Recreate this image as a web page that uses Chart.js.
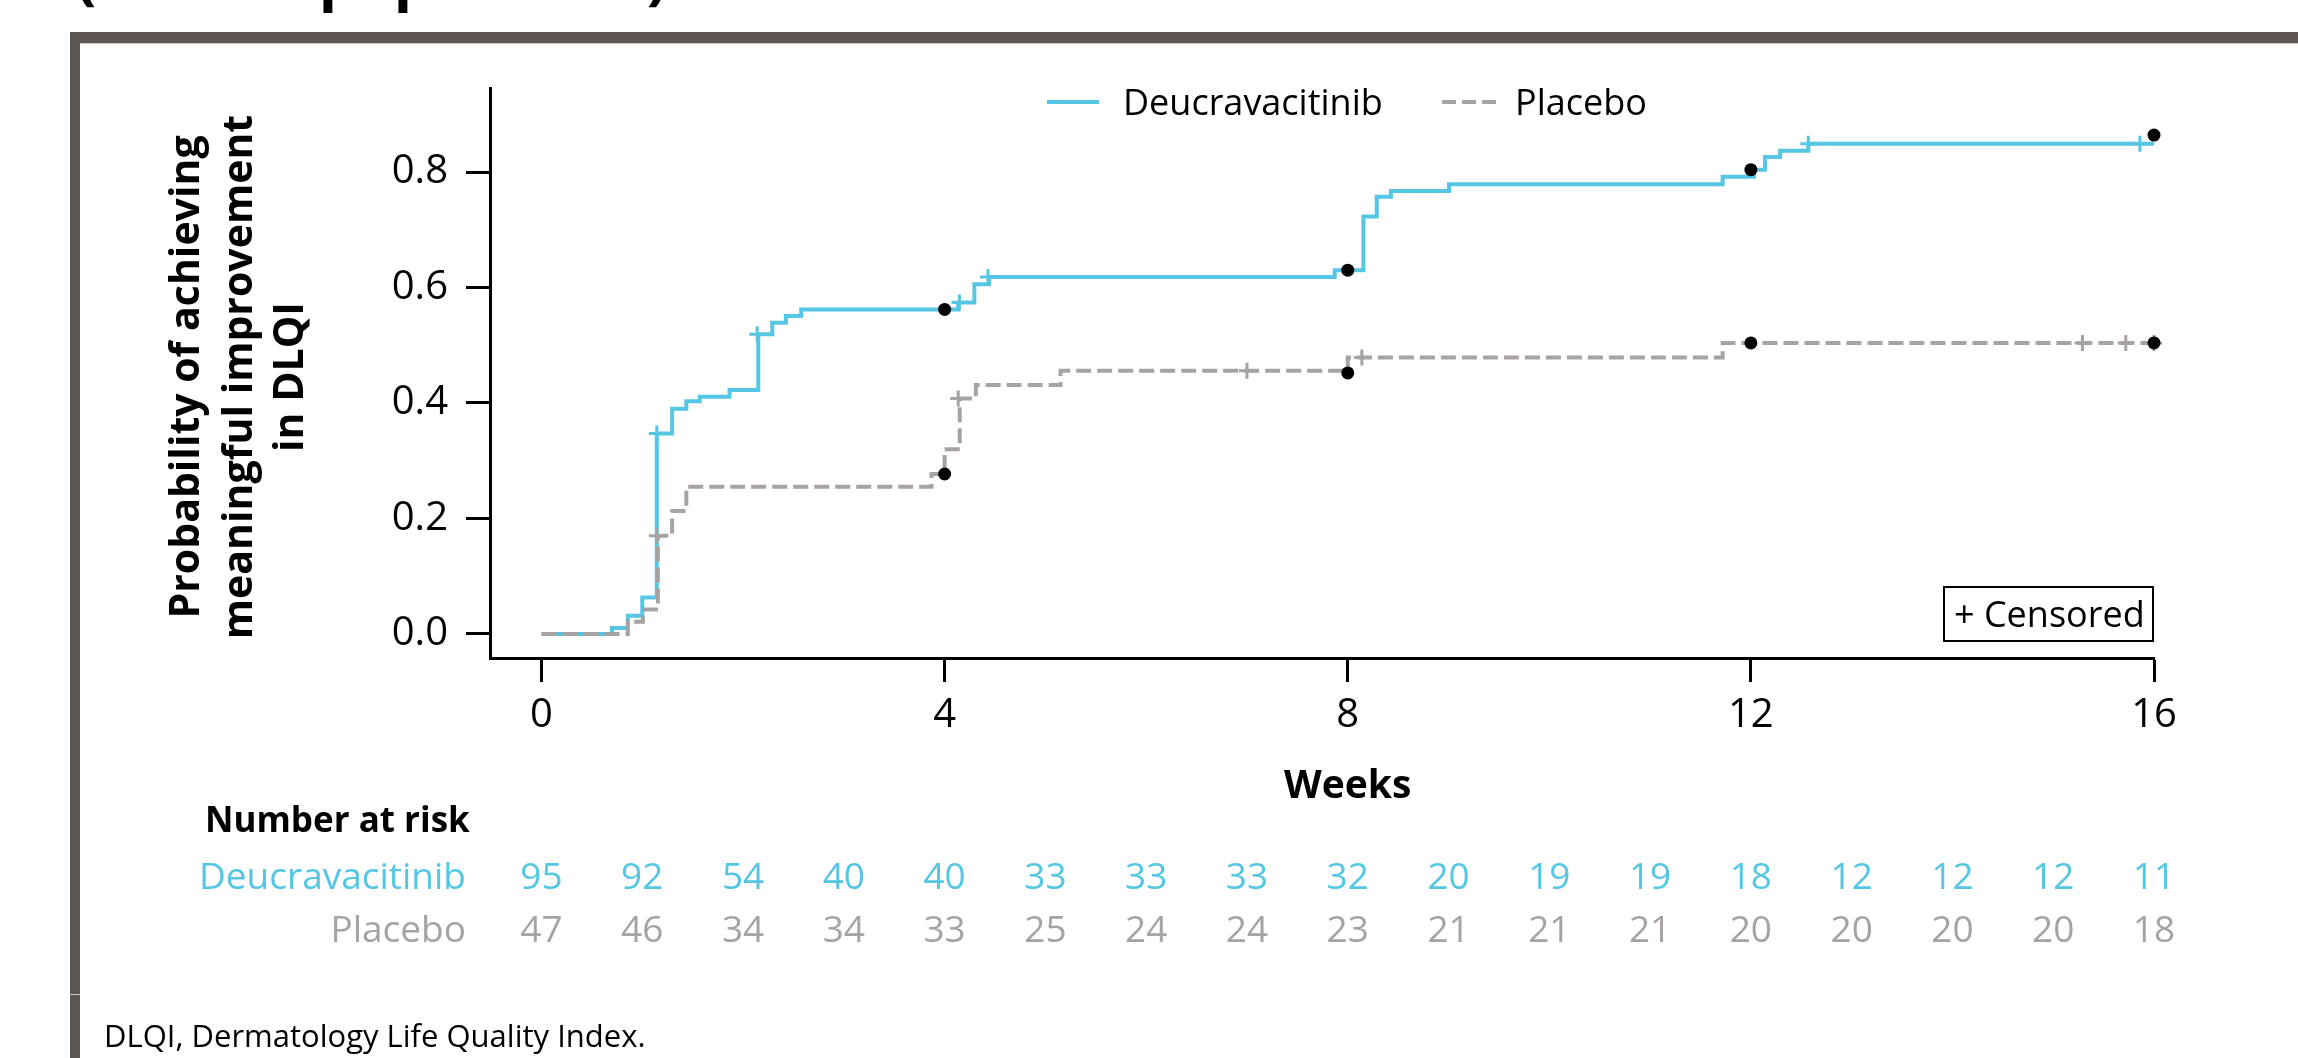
<!DOCTYPE html>
<html>
<head>
<meta charset="utf-8">
<script src="https://cdn.jsdelivr.net/npm/chart.js@4.4.1/dist/chart.umd.min.js"></script>
<style>
  html, body { margin: 0; padding: 0; background: #ffffff; overflow: hidden; }
  #wrap { position: relative; width: 2298px; height: 1058px; }
</style>
</head>
<body>
<div id="wrap"><canvas id="km" width="2298" height="1058"></canvas></div>
<script>
// Kaplan–Meier curves: week of each step and cumulative probability after the step
const deucraWeeks = [0, 0.70, 0.857, 1.0, 1.144, 1.296, 1.437, 1.57, 1.866, 2.151, 2.29, 2.425, 2.577, 4.135, 4.295, 4.44, 7.87, 8.155, 8.288, 8.428, 9.005, 11.72, 12.03, 12.14, 12.29, 12.57, 16];
const deucraProb  = [0, 0.0105, 0.0316, 0.0632, 0.347, 0.390, 0.403, 0.411, 0.4225, 0.519, 0.539, 0.5505, 0.562, 0.574, 0.6056, 0.618, 0.630, 0.723, 0.757, 0.767, 0.779, 0.792, 0.804, 0.826, 0.837, 0.849, 0.849];
const placeboWeeks = [0, 0.857, 1.006, 1.155, 1.296, 1.437, 3.87, 4.0, 4.15, 4.31, 5.15, 8.0, 11.72, 16];
const placeboProb  = [0, 0.0213, 0.0426, 0.170, 0.213, 0.255, 0.277, 0.320, 0.408, 0.431, 0.456, 0.479, 0.504, 0.504];

// Censored observations
const deucraCensorWeeks = [1.144, 2.14, 4.147, 4.43, 12.57, 15.86];
const deucraCensorProb  = [0.347, 0.519, 0.574, 0.618, 0.849, 0.849];
const placeboCensorWeeks = [1.144, 4.135, 7.0, 8.14, 15.29, 15.72, 16.0];
const placeboCensorProb  = [0.170, 0.408, 0.456, 0.479, 0.504, 0.504, 0.504];

// Landmark estimates at weeks 4, 8, 12 and 16
const landmarkWeeks = [4, 8, 12, 16];
const deucraLandmark = [0.562, 0.630, 0.804, 0.864];
const placeboLandmark = [0.277, 0.452, 0.504, 0.504];

// Axis ticks
const xTicks = [0, 4, 8, 12, 16];
const yTicks = [0, 0.2, 0.4, 0.6, 0.8];

// Number at risk, one value per week 0..16
const riskWeeks = [0, 1, 2, 3, 4, 5, 6, 7, 8, 9, 10, 11, 12, 13, 14, 15, 16];
const riskDeucra = [95, 92, 54, 40, 40, 33, 33, 33, 32, 20, 19, 19, 18, 12, 12, 12, 11];
const riskPlacebo = [47, 46, 34, 34, 33, 25, 24, 24, 23, 21, 21, 21, 20, 20, 20, 20, 18];

const seriesNames = ['Deucravacitinib', 'Placebo'];

const BLUE = '#55c6e3';
const GREY = '#a8a3a3';
const FRAME = '#5d5553';
const FONT = '"Open Sans", "Noto Sans", sans-serif';

const pts = (xs, ys) => xs.map((x, i) => ({ x: x, y: ys[i] }));

const decor = {
  id: 'decor',
  beforeDraw(chart) {
    const ctx = chart.ctx;
    ctx.save();
    ctx.fillStyle = '#ffffff';
    ctx.fillRect(0, 0, chart.width, chart.height);
    // slide frame
    ctx.fillStyle = FRAME;
    ctx.fillRect(70, 32, chart.width - 70, 11);
    ctx.fillRect(70, 32, 10, chart.height - 32);
    ctx.fillStyle = '#c9c6c5';
    ctx.fillRect(80, 43, chart.width - 80, 1);
    ctx.fillRect(70, 994, 10, 1);
    // heading (runs off the top edge)
    ctx.fillStyle = '#000';
    ctx.font = 'bold 60px ' + FONT;
    ctx.textBaseline = 'alphabetic';
    ctx.textAlign = 'left';
    ctx.fillText('(overall population)', 76, -2);
    ctx.restore();
  },
  afterDraw(chart) {
    const ctx = chart.ctx;
    const xs = chart.scales.x;
    ctx.save();
    ctx.textBaseline = 'alphabetic';

    // y-axis title, three centred lines
    ctx.fillStyle = '#000';
    ctx.font = 'bold 41px ' + FONT;
    ctx.textAlign = 'center';
    const yLines = ['Probability of achieving', 'meaningful improvement', 'in DLQI'];
    const yBase = [199, 252, 303];
    yLines.forEach((t, i) => {
      ctx.save();
      ctx.translate(yBase[i], 377);
      ctx.rotate(-Math.PI / 2);
      ctx.fillText(t, 0, 0);
      ctx.restore();
    });

    // x-axis title
    ctx.font = 'bold 39px ' + FONT;
    ctx.fillText('Weeks', xs.getPixelForValue(8), 798);

    // legend
    ctx.lineWidth = 4;
    ctx.strokeStyle = BLUE;
    ctx.beginPath(); ctx.moveTo(1047, 102); ctx.lineTo(1099, 102); ctx.stroke();
    ctx.strokeStyle = GREY;
    ctx.setLineDash([14, 6]);
    ctx.beginPath(); ctx.moveTo(1442, 102); ctx.lineTo(1496, 102); ctx.stroke();
    ctx.setLineDash([]);
    ctx.font = '36px ' + FONT;
    ctx.textAlign = 'left';
    ctx.fillStyle = '#000';
    ctx.fillText(seriesNames[0], 1123, 115);
    ctx.fillText(seriesNames[1], 1515, 115);

    // censored key
    ctx.lineWidth = 2;
    ctx.strokeStyle = '#000';
    ctx.strokeRect(1944, 587, 209, 54);
    ctx.font = '36px ' + FONT;
    ctx.fillText('+ Censored', 1954, 627);

    // number at risk table
    ctx.font = 'bold 35px ' + FONT;
    ctx.fillText('Number at risk', 205, 832);
    ctx.font = '37px ' + FONT;
    ctx.textAlign = 'right';
    ctx.fillStyle = BLUE;
    ctx.fillText(seriesNames[0], 466, 889);
    ctx.fillStyle = GREY;
    ctx.fillText(seriesNames[1], 466, 942);
    ctx.textAlign = 'center';
    riskWeeks.forEach((w, i) => {
      const px = xs.getPixelForValue(w);
      ctx.fillStyle = BLUE;
      ctx.fillText(String(riskDeucra[i]), px, 889);
      ctx.fillStyle = GREY;
      ctx.fillText(String(riskPlacebo[i]), px, 942);
    });

    // footnote
    ctx.textAlign = 'left';
    ctx.fillStyle = '#000';
    ctx.font = '31px ' + FONT;
    ctx.fillText('DLQI, Dermatology Life Quality Index.', 104, 1047);
    ctx.restore();
  }
};

const axisCommon = {
  grid: { display: true, drawOnChartArea: false, drawTicks: true, tickLength: 24, tickWidth: 3, tickColor: '#000' },
  border: { display: true, color: '#000', width: 3 }
};

new Chart(document.getElementById('km'), {
  type: 'scatter',
  data: {
    datasets: [
      { label: 'Deucravacitinib landmark', data: pts(landmarkWeeks, deucraLandmark), pointStyle: 'circle', pointRadius: 6.5, backgroundColor: '#000', borderWidth: 0, showLine: false, clip: false, order: 0 },
      { label: 'Placebo landmark', data: pts(landmarkWeeks, placeboLandmark), pointStyle: 'circle', pointRadius: 6.5, backgroundColor: '#000', borderWidth: 0, showLine: false, clip: false, order: 0 },
      { label: 'Deucravacitinib censored', data: pts(deucraCensorWeeks, deucraCensorProb), pointStyle: 'cross', pointRadius: 8, borderColor: BLUE, pointBorderWidth: 3, showLine: false, clip: false, order: 1 },
      { label: 'Placebo censored', data: pts(placeboCensorWeeks, placeboCensorProb), pointStyle: 'cross', pointRadius: 8, borderColor: GREY, pointBorderWidth: 3, showLine: false, clip: false, order: 1 },
      { label: seriesNames[1], data: pts(placeboWeeks, placeboProb), showLine: true, stepped: true, borderColor: GREY, borderWidth: 4, borderDash: [15, 6], pointRadius: 0, clip: false, order: 2 },
      { label: seriesNames[0], data: pts(deucraWeeks, deucraProb), showLine: true, stepped: true, borderColor: BLUE, borderWidth: 4, pointRadius: 0, clip: false, order: 3 }
    ]
  },
  options: {
    responsive: false,
    devicePixelRatio: 1,
    animation: false,
    events: [],
    layout: { padding: { left: 0, top: 88, right: 144, bottom: 0 } },
    plugins: { legend: { display: false }, tooltip: { enabled: false }, title: { display: false } },
    scales: {
      x: Object.assign({}, axisCommon, {
        type: 'linear',
        min: -0.511,
        max: 16,
        afterBuildTicks: s => { s.ticks = xTicks.map(v => ({ value: v })); },
        afterFit: s => { s.height = 400; },
        ticks: { color: '#000', font: { family: FONT, size: 40 }, padding: 10, maxRotation: 0, autoSkip: false, callback: v => String(v) }
      }),
      y: Object.assign({}, axisCommon, {
        type: 'linear',
        min: -0.0416,
        max: 0.9455,
        afterBuildTicks: s => { s.ticks = yTicks.map(v => ({ value: v })); },
        afterFit: s => { s.width = 490; },
        ticks: { color: '#000', font: { family: FONT, size: 40 }, padding: 18, autoSkip: false, callback: v => v.toFixed(1) }
      })
    }
  },
  plugins: [decor]
});
</script>
</body>
</html>
